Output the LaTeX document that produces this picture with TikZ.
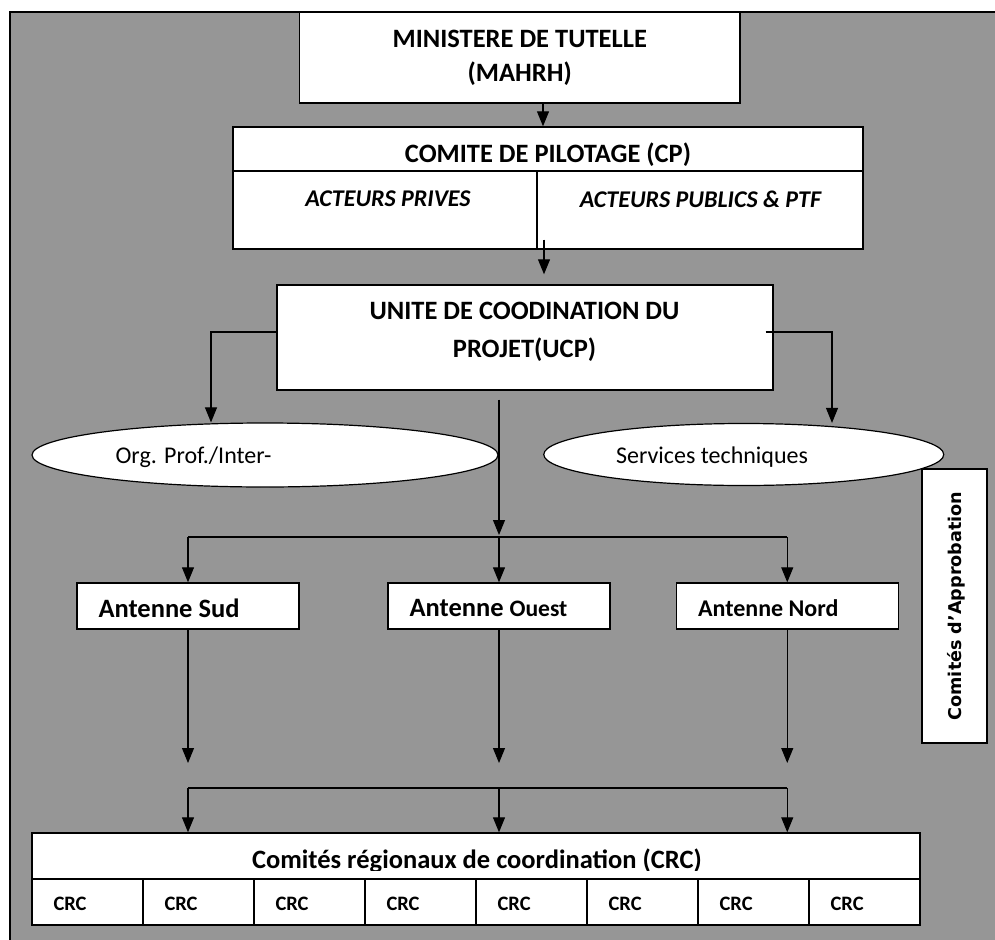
\documentclass[tikz,border=0pt]{standalone}
\usepackage{fontspec}
\setmainfont{Carlito}
\newfontfamily\vfont{DejaVu Sans}
\usetikzlibrary{arrows.meta,shapes.geometric}
\definecolor{bggray}{RGB}{150,150,150}
\begin{document}
\begin{tikzpicture}[x=1pt,y=-1pt,
  box/.style={draw=black,line width=1.4pt,fill=white,inner sep=0pt,anchor=center},
  ell/.style={draw=black,line width=1.2pt,fill=white,ellipse,inner sep=0pt},
  conn/.style={line width=1.1pt},
  arr/.style={conn,-{Triangle[length=15pt,width=12pt]}},
  big/.style={font=\bfseries\fontsize{26.5}{34}\selectfont,inner sep=0pt},
  mid/.style={font=\fontsize{24}{28}\selectfont,inner sep=0pt},
  ital/.style={font=\bfseries\itshape\fontsize{24}{28}\selectfont,inner sep=0pt},
  crcf/.style={font=\bfseries\fontsize{20.5}{24}\selectfont,inner sep=0pt},
 ]
\useasboundingbox (0,0) rectangle (995,939);
\fill[bggray,draw=black,line width=1.4pt] (10,12) rectangle (1010,960);

% Ministere
\node[box,minimum width=440.5pt,minimum height=91pt] (min) at (519.75,57.5) {};
\node[big,align=center] (mintxt) at (519.75,58) {MINISTERE DE TUTELLE\\(MAHRH)};

% Comite de pilotage
\node[box,minimum width=630pt,minimum height=122pt] (cp) at (548,188) {};
\draw[line width=1.4pt] (233,171) -- (863,171);
\draw[line width=1.2pt] (537,171) -- (537,249);
\node[big] (cptxt) at (548,155) {COMITE DE PILOTAGE (CP)};
\node[ital] (priv) at (388,199) {ACTEURS PRIVES};
\node[ital] (pub) at (700.5,199) {ACTEURS PUBLICS \& PTF};

% UCP
\node[box,minimum width=496pt,minimum height=105pt] (ucp) at (525,337.5) {};
\node[font=\bfseries\fontsize{26.5}{38}\selectfont,inner sep=0pt,align=center] (ucptxt) at (524.5,332) {UNITE DE COODINATION DU\\PROJET(UCP)};

% ellipses
\node[ell,minimum width=466pt,minimum height=64pt] (ellL) at (265,455) {};
\node[mid] (orgtxt) at (193.5,457) {Org. Prof./Inter-};
\node[ell,minimum width=400pt,minimum height=62pt] (ellR) at (743.75,454.5) {};
\node[mid] (servtxt) at (712,457) {Services techniques};

% Antennes
\node[box,minimum width=222pt,minimum height=46pt] (sud) at (188,606) {};
\node[big] at ([xshift=-19pt,yshift=-2pt]sud.center) {Antenne Sud};
\node[box,minimum width=222pt,minimum height=46pt] (ouest) at (499,606) {};
\node[big] at ([xshift=-10.5pt,yshift=-2pt]ouest.center) {Antenne {\fontsize{23.6}{28}\selectfont Ouest}};
\node[box,minimum width=222pt,minimum height=46pt] (nord) at (787.25,606) {};
\node[font=\bfseries\fontsize{24}{28}\selectfont,inner sep=0pt] at ([xshift=-19pt,yshift=-2pt]nord.center) {Antenne Nord};

% Comites d'approbation
\node[box,minimum width=65pt,minimum height=274pt] (appr) at (954.5,606) {};
\node[rotate=90,font=\vfont\bfseries\fontsize{17.6}{20}\selectfont,inner sep=0pt] at ([xshift=2pt]appr.center) {Comités d’Approbation};

% CRC
\node[box,minimum width=888pt,minimum height=46pt] (crch) at (476,856) {};
\begin{scope}
\clip (32,833) rectangle (920,870.5);
\node[big,anchor=base] at (477,868.5) {Comités régionaux de coordination (CRC)};
\end{scope}
\foreach \i in {0,...,7} {
  \node[box,minimum width=111pt,minimum height=46pt] (crc\i) at ({87.5+111*\i},902) {};
  \node[crcf,anchor=west] at ([xshift=22pt,yshift=-2pt]crc\i.west) {CRC};
}

% connectors
\draw[arr] ([xshift=23.25pt]min.south) -- ([xshift=23.25pt]min.south |- cp.north);
\draw[arr] ([xshift=-4pt,yshift=10pt]cp.south) -- ([xshift=-4pt,yshift=10pt]cp.south |- ucp.north);
\draw[arr] ([yshift=5.5pt]ucp.west) -| ([xshift=-54pt]ellL.north);
\draw[arr] ([xshift=-8pt,yshift=5.5pt]ucp.east) -| ([xshift=88.25pt]ellR.north);

\coordinate (hub) at (499,537);
\draw[arr] ([yshift=-9pt]ucp.south -| hub) -- ([yshift=2pt]hub);
\draw[conn] (sud.north |- hub) -- (nord.north |- hub);
\draw[arr] (sud.north |- hub) -- (sud.north);
\draw[arr] (ouest.north |- hub) -- (ouest.north);
\draw[arr] (nord.north |- hub) -- (nord.north);

\coordinate (bus) at (499,788);
\draw[arr] (sud.south) -- ([yshift=25pt]sud.south |- bus);
\draw[arr] (ouest.south) -- ([yshift=25pt]ouest.south |- bus);
\draw[arr] (nord.south) -- ([yshift=25pt]nord.south |- bus);
\draw[conn] (sud.south |- bus) -- (nord.south |- bus);
\draw[arr] (sud.south |- bus) -- (sud.south |- crch.north);
\draw[arr] (ouest.south |- bus) -- (ouest.south |- crch.north);
\draw[arr] (nord.south |- bus) -- (nord.south |- crch.north);
\end{tikzpicture}
\end{document}
